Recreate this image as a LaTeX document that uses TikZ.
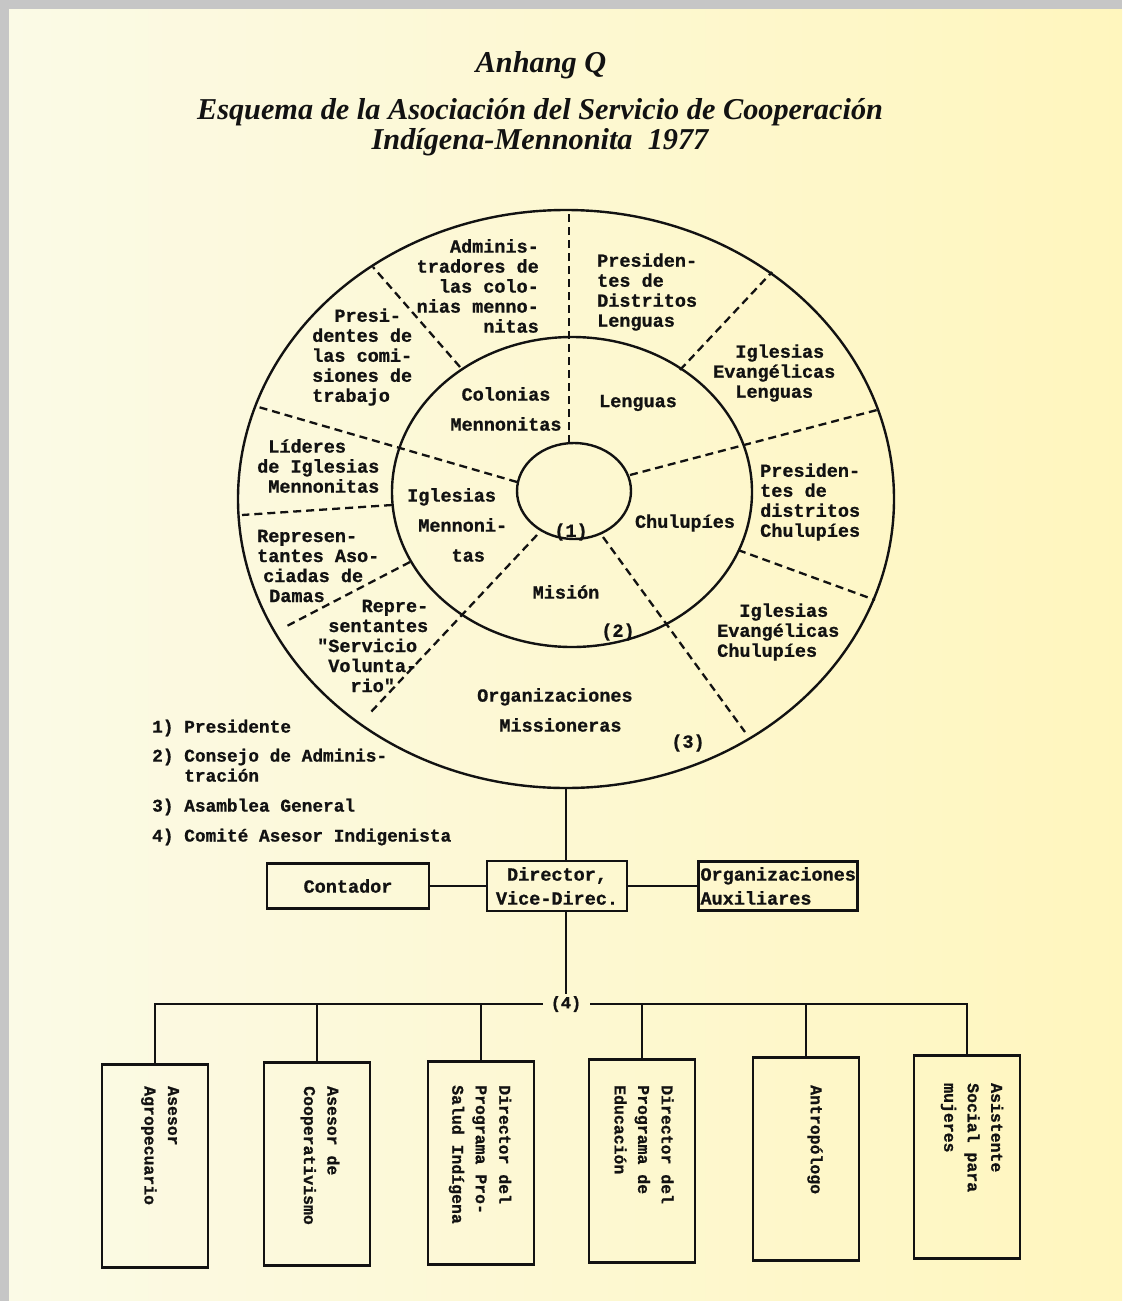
\documentclass[tikz,border=0pt]{standalone}
\usepackage{fontspec}
\setmainfont{Liberation Serif}
\setmonofont{Liberation Mono}
\newfontfamily\twb{Liberation Mono Bold}[FakeBold=0.9]
\usetikzlibrary{shapes.geometric}
\definecolor{ink}{HTML}{121212}
\definecolor{pageL}{HTML}{FBFAE6}
\definecolor{pageM}{HTML}{FEFEF7}
\definecolor{pageR}{HTML}{FFF6BE}
\tikzset{
  ln/.style={draw=ink, line width=2.4pt},
  dsh/.style={draw=ink, line width=2.3pt, dash pattern=on 8pt off 5pt},
  ring/.style={ellipse, draw=ink, line width=2.4pt, inner sep=0pt, fill=none},
  rtxt/.style={inner sep=0pt, text=ink, font=\twb\fontsize{18.5}{20}\selectfont},
  rtxtw/.style={inner sep=0pt, text=ink, font=\twb\fontsize{18.5}{30}\selectfont},
  lgd/.style={inner sep=0pt, anchor=west, align=left, text=ink, font=\twb\fontsize{17.8}{20}\selectfont},
  hbox/.style={draw=ink, line width=2.4pt, inner sep=0pt, text=ink, font=\twb\fontsize{18.5}{24}\selectfont},
  vbox/.style={draw=ink, line width=2.4pt, inner sep=0pt, minimum width=106pt, minimum height=203pt},
  vtxt/.style={rotate=-90, anchor=west, align=left, inner sep=0pt, text=ink, font=\twb\fontsize{16.5}{23.5}\selectfont},
  ttl/.style={anchor=base, inner sep=0pt, text=ink, font=\bfseries\itshape\fontsize{30.3}{34}\selectfont}
}
\begin{document}
\begin{tikzpicture}[x=1pt,y=-1pt]
\useasboundingbox (0,0) rectangle (1122,1301);
% paper
\fill[gray!45] (0,0) rectangle (1122,1301);
\shade[left color=pageL, middle color=pageM, right color=pageR] (9,9) rectangle (1122,1301);

% titles
\node[ttl] (anh) at (541,72) {Anhang Q};
\node[ttl] (tit1) at (540,119) {Esquema de la Asociación del Servicio de Cooperación};
\node[ttl] (tit2) at (540,149) {Indígena-Mennonita\ \ 1977};

% ellipses
\node[ring, minimum width=656pt, minimum height=578pt] (outer) at (566,499) {};
\node[ring, minimum width=360pt, minimum height=310pt] (middle) at (572,492) {};
\node[ring, minimum width=114pt, minimum height=96pt] (inner) at (574,491) {};

% dividing lines through both rings
\draw[dsh] (569,443) -- (569,212);
\draw[dsh] (517,482) -- (255,406);
\draw[dsh] (630,475) -- (877,410);
\draw[dsh] (537,535) -- (370,713);
\draw[dsh] (603,537) -- (745,732);
% dividing lines of the outer ring
\draw[dsh] (460,367) -- (373,267);
\draw[dsh] (680,370) -- (772,272);
\draw[dsh] (392,505) -- (242,515);
\draw[dsh] (410,562) -- (285,627);
\draw[dsh] (738,550) -- (875,600);

% ring texts
\node[rtxt, anchor=east, align=right] (adm) at (539,286) {Adminis-\\tradores de\\las colo-\\nias menno-\\nitas};
\node[rtxt, anchor=west, align=left] (pdl) at (597,292) {Presiden-\\tes de\\Distritos\\Lenguas};
\node[rtxt, anchor=west, align=left] (pct) at (312,357) {\phantom{xx}Presi-\\dentes de\\las comi-\\siones de\\trabajo};
\node[rtxtw, align=center] (col) at (506,409) {Colonias\\Mennonitas};
\node[rtxt] (len) at (638,403) {Lenguas};
\node[rtxt, anchor=west, align=left] (iel) at (713,373) {\phantom{xx}Iglesias\\Evangélicas\\\phantom{xx}Lenguas};
\node[rtxt, anchor=west, align=left] (lid) at (257,466) {\phantom{x}Líderes\\de Iglesias\\\phantom{x}Mennonitas};
\node[rtxtw, anchor=west, align=left] (igm) at (407,525) {Iglesias\\\phantom{x}Mennoni-\\\phantom{xxxx}tas};
\node[rtxt] (chu) at (685,523) {Chulupíes};
\node[rtxt, anchor=west, align=left] (pdc) at (760,502) {Presiden-\\tes de\\distritos\\Chulupíes};
\node[rtxt, anchor=west, align=left] (rad) at (257,566) {Represen-\\tantes Aso-\\\hspace*{6pt}ciadas de\\\hspace*{12pt}Damas};
\node[rtxt, anchor=west, align=left] (rsv) at (317,646) {\phantom{xxxx}Repre-\\\phantom{x}sentantes\\"Servicio\\\phantom{x}Volunta-\\\phantom{xxx}rio"};
\node[rtxt] (mis) at (566,592) {Misión};
\node[rtxt, anchor=west, align=left] (iec) at (717,632) {\phantom{xx}Iglesias\\Evangélicas\\Chulupíes};
\node[rtxtw, anchor=west, align=left] (org) at (477,710) {Organizaciones\\\phantom{xx}Missioneras};
\node[rtxt] (n1) at (571,532) {(1)};
\node[rtxt] (n2) at (618,632) {(2)};
\node[rtxt] (n3) at (688,743) {(3)};

% legend
\node[lgd] (l1) at (152,728) {1) Presidente};
\node[lgd] (l2) at (152,767) {2) Consejo de Adminis-\\\phantom{2)x}tración};
\node[lgd] (l3) at (152,807) {3) Asamblea General};
\node[lgd] (l4) at (152,837) {4) Comité Asesor Indigenista};

% middle boxes
\node[hbox, minimum width=162pt, minimum height=45pt] (con) at (348,886) {Contador};
\node[hbox, minimum width=140pt, minimum height=50pt, align=center] (dir) at (557,886) {Director,\\Vice-Direc.};
\node[hbox, minimum width=159pt, minimum height=49pt, text width=155pt, align=left] (aux) at (778,886) {Organizaciones\\Auxiliares};

\draw[ln] (outer.south) -- (outer.south |- dir.north);
\draw[ln] (con.east) -- (dir.west);
\draw[ln] (dir.east) -- (aux.west);

% committee
\node[inner xsep=8pt, inner ysep=2pt, text=ink, font=\twb\fontsize{17}{20}\selectfont] (q4) at (566,1004) {(4)};
\draw[ln] (dir.south -| q4.north) -- (q4.north);

\node[vbox] (b1) at (155,1166) {};
\node[vbox] (b2) at (317,1164) {};
\node[vbox] (b3) at (481,1163) {};
\node[vbox] (b4) at (642,1161) {};
\node[vbox] (b5) at (806,1159) {};
\node[vbox] (b6) at (967,1157) {};

\draw[ln] (b1.north) |- (q4.west);
\draw[ln] (b6.north) |- (q4.east);
\draw[ln] (b2.north) -- (b2.north |- q4.center);
\draw[ln] (b3.north) -- (b3.north |- q4.center);
\draw[ln] (b4.north) -- (b4.north |- q4.center);
\draw[ln] (b5.north) -- (b5.north |- q4.center);

\node[vtxt] (v1) at (160,1086) {Asesor\\Agropecuario};
\node[vtxt] (v2) at (320,1086) {Asesor de\\Cooperativismo};
\node[vtxt] (v3) at (480,1085) {Director del\\Programa Pro-\\Salud Indígena};
\node[vtxt] (v4) at (644,1085) {Director del\\Programa de\\Educación};
\node[vtxt] (v5) at (815,1085) {Antropólogo};
\node[vtxt] (v6) at (972,1083) {Asistente\\Social para\\mujeres};
\end{tikzpicture}
\end{document}
